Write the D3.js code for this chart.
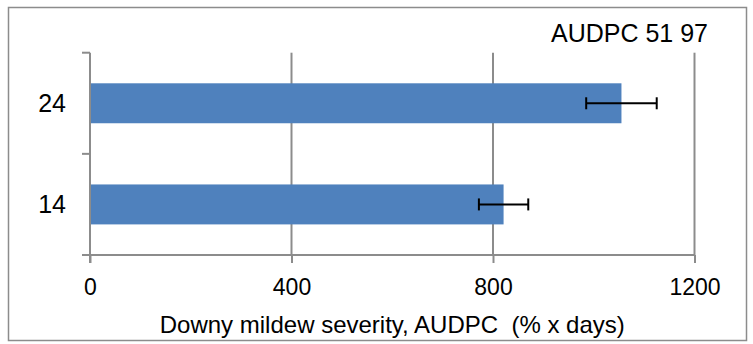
<!DOCTYPE html>
<html>
<head>
<meta charset="utf-8">
<title>AUDPC</title>
<script src="https://d3js.org/d3.v7.min.js"></script>
<style>
  body { margin: 0; background: #fff; }
  svg { display: block; }
  .tick-label { font-family: "Liberation Sans", Arial, sans-serif; fill: #000; white-space: pre; }
</style>
</head>
<body>
<div id="chart"></div>
<script>
// data
var categories = ["24", "14"];
var severity = [1055, 821];
var errors = [70, 49];
var xTicks = [0, 400, 800, 1200];
var titleText = "AUDPC 51 97";
var xTitle = "Downy mildew severity, AUDPC  (% x days)";

var W = 753, H = 344;
var plot = { left: 90, right: 694.5, top: 52.7, bottom: 255 };

var svg = d3.select("#chart").append("svg")
    .attr("width", W)
    .attr("height", H);

// outer frame
svg.append("rect")
    .attr("x", 8.5).attr("y", 7.5)
    .attr("width", 738).attr("height", 333)
    .attr("fill", "#fff")
    .attr("stroke", "#8c8c8c")
    .attr("stroke-width", 1.5);

var x = d3.scaleLinear().domain([0, 1200]).range([plot.left, plot.right]);
var y = d3.scaleBand().domain(categories)
    .range([plot.top, plot.bottom])
    .paddingInner(0.605)
    .paddingOuter(0.3025);

// vertical gridlines
svg.append("g").selectAll("line")
    .data(xTicks.slice(1))
    .enter().append("line")
    .attr("x1", function(d) { return x(d); })
    .attr("x2", function(d) { return x(d); })
    .attr("y1", plot.top)
    .attr("y2", plot.bottom)
    .attr("stroke", "#8c8c8c")
    .attr("stroke-width", 2);

// bars
svg.append("g").selectAll("rect")
    .data(categories)
    .enter().append("rect")
    .attr("x", x(0))
    .attr("y", function(d) { return y(d); })
    .attr("width", function(d, i) { return x(severity[i]) - x(0); })
    .attr("height", y.bandwidth())
    .attr("fill", "#4f81bd");

// error bars
var eb = svg.append("g").attr("stroke", "#000").attr("stroke-width", 2);
categories.forEach(function(c, i) {
    var cy = y(c) + y.bandwidth() / 2;
    var lo = x(severity[i] - errors[i]), hi = x(severity[i] + errors[i]);
    eb.append("line").attr("x1", lo).attr("x2", hi).attr("y1", cy).attr("y2", cy);
    eb.append("line").attr("x1", lo).attr("x2", lo).attr("y1", cy - 6).attr("y2", cy + 6);
    eb.append("line").attr("x1", hi).attr("x2", hi).attr("y1", cy - 6).attr("y2", cy + 6);
});

// x axis
var xAxis = svg.append("g")
    .attr("transform", "translate(0," + plot.bottom + ")")
    .call(d3.axisBottom(x).tickValues(xTicks).tickFormat(d3.format("d")).tickSize(8).tickPadding(16));
xAxis.select(".domain").attr("stroke", "#8c8c8c").attr("stroke-width", 2)
    .attr("d", "M" + (plot.left - 8) + ",0H" + plot.right);
xAxis.selectAll(".tick line").attr("stroke", "#8c8c8c").attr("stroke-width", 2);
xAxis.selectAll(".tick text")
    .attr("class", "tick-label")
    .style("font-size", "23px");

// y axis: ticks on category boundaries
var yAxis = svg.append("g");
yAxis.append("line")
    .attr("x1", plot.left).attr("x2", plot.left)
    .attr("y1", plot.top).attr("y2", plot.bottom + 8)
    .attr("stroke", "#8c8c8c").attr("stroke-width", 2);
var bounds = [plot.top, plot.top + y.step(), plot.bottom];
yAxis.selectAll(".yt")
    .data(bounds)
    .enter().append("line")
    .attr("x1", plot.left - 8).attr("x2", plot.left)
    .attr("y1", function(d) { return d; }).attr("y2", function(d) { return d; })
    .attr("stroke", "#8c8c8c").attr("stroke-width", 2);
yAxis.selectAll("text")
    .data(categories)
    .enter().append("text")
    .attr("class", "tick-label")
    .attr("x", plot.left - 24)
    .attr("y", function(d) { return y(d) + y.bandwidth() / 2; })
    .attr("dy", "0.36em")
    .attr("text-anchor", "end")
    .style("font-size", "25px")
    .text(function(d) { return d; });

// titles
svg.append("text")
    .attr("class", "tick-label")
    .attr("x", 708)
    .attr("y", 42)
    .attr("text-anchor", "end")
    .style("font-size", "25px")
    .text(titleText);

svg.append("text")
    .attr("class", "tick-label")
    .attr("x", (plot.left + plot.right) / 2)
    .attr("y", 333)
    .attr("text-anchor", "middle")
    .style("font-size", "24px")
    .text(xTitle);
</script>
</body>
</html>
